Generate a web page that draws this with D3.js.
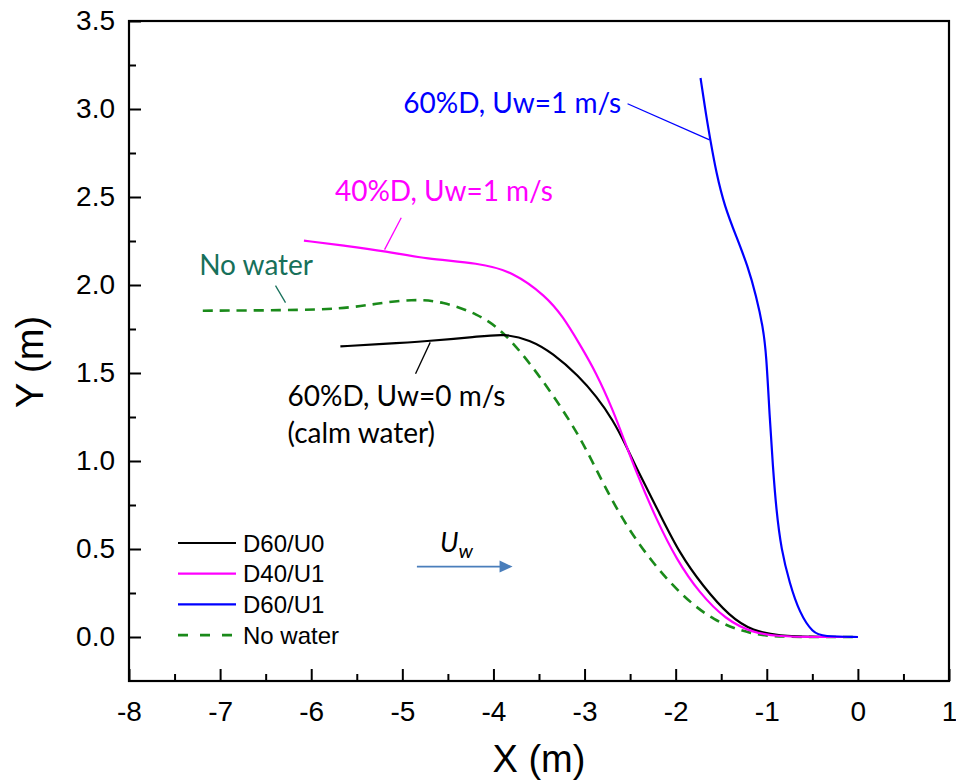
<!DOCTYPE html>
<html>
<head>
<meta charset="utf-8">
<script src="https://cdn.jsdelivr.net/npm/d3@7"></script>
<style>
  html, body { margin: 0; padding: 0; background: #fff; }
  svg { display: block; }
  .axis-title { font-family: Arial, "Liberation Sans", sans-serif; font-size: 38px; fill: #000; }
  .legend-text { font-family: Arial, "Liberation Sans", sans-serif; font-size: 24px; fill: #000; }
  .note { font-family: Lato, "Open Sans", sans-serif; font-size: 28px; }
</style>
</head>
<body>
<svg id="chart" width="956" height="783"></svg>
<script>
// Free-surface profiles Y(X) for each run
const seriesNames = ["D60/U0", "D40/U1", "D60/U1", "No water"];
const seriesColors = ["#000000", "#ff00ff", "#0000ff", "#1a8a1a"];
const seriesDashed = [false, false, false, true];

const d60u0X = [-5.68, -5.21, -4.74, -4.19, -3.88, -3.60, -3.35, -3.06, -2.87, -2.69, -2.54, -2.44, -2.18, -1.96, -1.70, -1.41, -1.15, -0.86, -0.50, 0];
const d60u0Y = [1.651, 1.665, 1.680, 1.705, 1.724, 1.689, 1.614, 1.481, 1.367, 1.235, 1.083, 0.970, 0.705, 0.477, 0.288, 0.117, 0.032, 0.007, 0.0, 0.0];

const d40u1X = [-6.08, -5.62, -5.18, -4.74, -4.16, -3.79, -3.42, -3.24, -3.06, -2.87, -2.69, -2.58, -2.43, -2.21, -1.99, -1.74, -1.45, -1.15, -0.86, -0.50, 0];
const d40u1Y = [2.252, 2.223, 2.191, 2.148, 2.125, 2.077, 1.935, 1.822, 1.670, 1.500, 1.291, 1.140, 0.932, 0.666, 0.439, 0.250, 0.098, 0.023, 0.003, 0.0, 0.0];

const d60u1X = [-1.727, -1.664, -1.620, -1.554, -1.463, -1.335, -1.207, -1.115, -1.043, -1.005, -0.969, -0.933, -0.896, -0.841, -0.750, -0.640, -0.494, -0.384, 0];
const d60u1Y = [3.176, 2.958, 2.826, 2.636, 2.447, 2.276, 2.106, 1.935, 1.765, 1.610, 1.253, 0.969, 0.723, 0.496, 0.307, 0.136, 0.023, 0.003, 0.0];

const noWaterX = [-7.19, -6.31, -5.65, -5.29, -4.89, -4.56, -4.17, -3.90, -3.60, -3.31, -3.03, -2.80, -2.54, -2.25, -1.96, -1.59, -1.15, -0.86, 0];
const noWaterY = [1.854, 1.856, 1.864, 1.894, 1.920, 1.907, 1.836, 1.741, 1.557, 1.348, 1.120, 0.875, 0.628, 0.420, 0.250, 0.089, 0.013, 0.0, 0.0];

const xTicks = [-8, -7, -6, -5, -4, -3, -2, -1, 0, 1];
const yTicks = [0.0, 0.5, 1.0, 1.5, 2.0, 2.5, 3.0, 3.5];

// Callout labels: text, colour, anchor (x, y) and leader line (x1, y1, x2, y2)
const noteTexts = ["60%D, Uw=1 m/s", "40%D, Uw=1 m/s", "No water", "60%D, Uw=0 m/s", "(calm water)"];
const noteColors = ["#0000ff", "#ff00ff", "#17705a", "#000000", "#000000"];
const noteX = [-4.99, -5.74, -7.23, -6.26, -6.26];
const noteY = [2.975, 2.475, 2.059, 1.310, 1.105];
const leaderX1 = [-2.528, -5.012, -6.392, -4.694];
const leaderY1 = [3.030, 2.382, 1.996, 1.674];
const leaderX2 = [-1.628, -5.195, -6.282, -4.855];
const leaderY2 = [2.825, 2.201, 1.900, 1.496];
const leaderColors = ["#0000ff", "#ff00ff", "#17705a", "#000000"];

// Flow-direction arrow
const flowArrowX = [-4.84, -3.79];
const flowArrowY = 0.40;

const svg = d3.select("#chart");
const margin = { left: 129, top: 21, right: 7, bottom: 102 };
const W = 956 - margin.left - margin.right;   // 820
const H = 783 - margin.top - margin.bottom;   // 660

const x = d3.scaleLinear().domain([-8, 1]).range([margin.left, margin.left + W]);
const y = d3.scaleLinear().domain([-0.25, 3.5]).range([margin.top + H, margin.top]);

// Axes with inward ticks
const xAxis = d3.axisBottom(x).tickValues(xTicks).tickFormat(d3.format("d")).tickSizeInner(-12).tickSizeOuter(0).tickPadding(20);
const xMinor = d3.axisBottom(x).tickValues(xTicks.slice(0, -1).map(v => v + 0.5)).tickFormat("").tickSizeInner(-7).tickSizeOuter(0);
const yAxis = d3.axisLeft(y).tickValues(yTicks).tickFormat(d3.format(".1f")).tickSizeInner(-12).tickSizeOuter(0).tickPadding(14);
const yMinor = d3.axisLeft(y).tickValues(yTicks.slice(0, -1).map(v => v + 0.25)).tickFormat("").tickSizeInner(-7).tickSizeOuter(0);

const gx = svg.append("g").attr("transform", `translate(0,${margin.top + H})`).call(xAxis);
svg.append("g").attr("transform", `translate(0,${margin.top + H})`).call(xMinor);
const gy = svg.append("g").attr("transform", `translate(${margin.left},0)`).call(yAxis);
svg.append("g").attr("transform", `translate(${margin.left},0)`).call(yMinor);

svg.selectAll(".domain").remove();
svg.selectAll(".tick line").attr("stroke", "#000").attr("stroke-width", 2);
svg.selectAll(".tick text")
  .attr("fill", "#000")
  .style("font-family", "Arial, 'Liberation Sans', sans-serif")
  .style("font-size", "28px");
gx.selectAll(".tick text").text(d => d3.format("d")(d).replace("\u2212", "-"));

// Frame
svg.append("rect")
  .attr("x", margin.left).attr("y", margin.top)
  .attr("width", W).attr("height", H)
  .attr("fill", "none").attr("stroke", "#000").attr("stroke-width", 2.2);

// Axis titles
svg.append("text").attr("class", "axis-title")
  .attr("x", margin.left + W / 2).attr("y", 772)
  .attr("text-anchor", "middle").text("X (m)");
svg.append("text").attr("class", "axis-title")
  .attr("transform", `translate(43,${362}) rotate(-90)`)
  .attr("text-anchor", "middle").text("Y (m)");

// Profiles
const seriesX = [d60u0X, d40u1X, d60u1X, noWaterX];
const seriesY = [d60u0Y, d40u1Y, d60u1Y, noWaterY];
const line = d3.line().x(d => x(d[0])).y(d => y(d[1])).curve(d3.curveBasis);

// draw order: no water first, then the solid lines on top
[3, 0, 1, 2].forEach(i => {
  const pts = seriesX[i].map((v, k) => [v, seriesY[i][k]]);
  svg.append("path")
    .attr("d", line(pts))
    .attr("fill", "none")
    .attr("stroke", seriesColors[i])
    .attr("stroke-width", seriesDashed[i] ? 2.6 : 2.2)
    .attr("stroke-dasharray", seriesDashed[i] ? "10,7" : null);
});

// Leader lines and callouts
leaderX1.forEach((v, i) => {
  svg.append("line")
    .attr("x1", x(v)).attr("y1", y(leaderY1[i]))
    .attr("x2", x(leaderX2[i])).attr("y2", y(leaderY2[i]))
    .attr("stroke", leaderColors[i]).attr("stroke-width", 1.3);
});
noteTexts.forEach((t, i) => {
  svg.append("text").attr("class", "note")
    .attr("x", x(noteX[i])).attr("y", y(noteY[i]))
    .attr("fill", noteColors[i]).text(t);
});

// Flow arrow U_w
const ax1 = x(flowArrowX[0]), ax2 = x(flowArrowX[1]), ay = y(flowArrowY);
svg.append("line").attr("x1", ax1).attr("y1", ay).attr("x2", ax2 - 12).attr("y2", ay)
  .attr("stroke", "#4a7ebb").attr("stroke-width", 1.6);
svg.append("path")
  .attr("d", `M${ax2},${ay} L${ax2 - 13},${ay - 6} L${ax2 - 13},${ay + 6} Z`)
  .attr("fill", "#4a7ebb");
const uLabel = svg.append("text").attr("class", "note")
  .attr("x", ax1 + 23).attr("y", ay - 15).attr("fill", "#000")
  .style("font-style", "italic").style("font-size", "27px");
uLabel.append("tspan").text("U");
uLabel.append("tspan").attr("dy", 6).style("font-size", "20px").text("w");

// Legend
const legendX = 178, legendY0 = 543, legendStep = 30.7;
seriesNames.forEach((name, i) => {
  const ly = legendY0 + i * legendStep;
  svg.append("line")
    .attr("x1", legendX).attr("x2", legendX + 58)
    .attr("y1", ly).attr("y2", ly)
    .attr("stroke", seriesColors[i])
    .attr("stroke-width", seriesDashed[i] ? 2.6 : 2.2)
    .attr("stroke-dasharray", seriesDashed[i] ? "10,12" : null);
  svg.append("text").attr("class", "legend-text")
    .attr("x", legendX + 65).attr("y", ly)
    .attr("dominant-baseline", "central")
    .text(name);
});
</script>
</body>
</html>
